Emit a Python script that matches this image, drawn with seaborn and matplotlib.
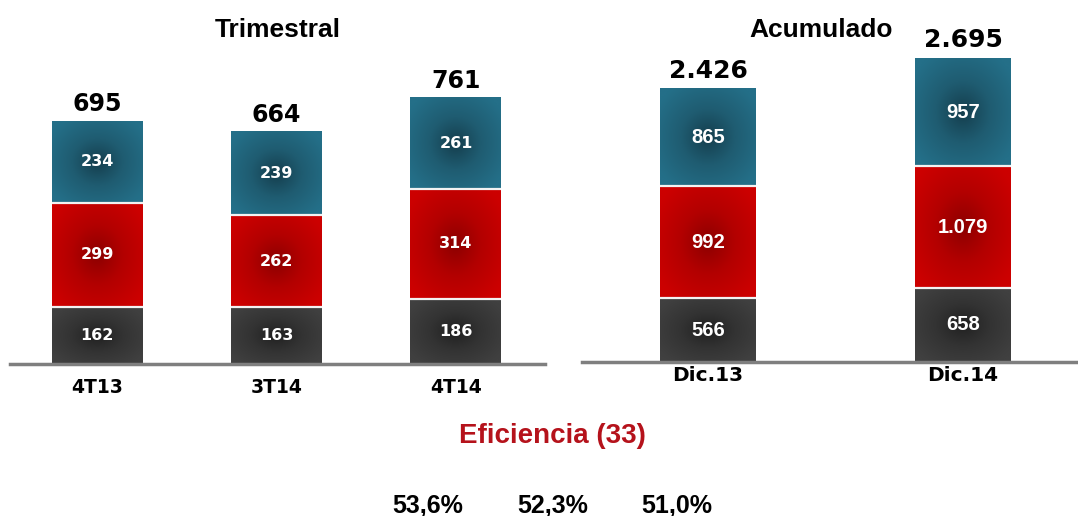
import matplotlib
matplotlib.use("Agg")
import matplotlib.pyplot as plt
import seaborn as sns
import pandas as pd
import numpy as np
from matplotlib import font_manager
from matplotlib.colors import LinearSegmentedColormap

# ---------------- data ----------------
q_periods = ["4T13", "3T14", "4T14"]
q_bottom = [162, 163, 186]
q_middle = [299, 262, 314]
q_top = [234, 239, 261]
q_total = [695, 664, 761]

a_periods = ["Dic.13", "Dic.14"]
a_bottom = [566, 658]
a_middle = [992, 1079]
a_top = [865, 957]
a_total = [2426, 2695]

eff_title = "Eficiencia (33)"
eff_values = ["53,6%", "52,3%", "51,0%"]

title_q = "Trimestral"
title_a = "Acumulado"

# ---------------- style ----------------
sns.set_theme(style="white")
plt.rcParams["font.family"] = ["Liberation Sans", "DejaVu Sans"]

C_TOP = "#215f74"
C_MID = "#bb0000"
C_BOT = "#383838"
GRAD = {
    "t": LinearSegmentedColormap.from_list("t", ["#143c4b", "#1f5c71", "#246f88"]),
    "m": LinearSegmentedColormap.from_list("m", ["#8a0000", "#b30000", "#cc0000"]),
    "b": LinearSegmentedColormap.from_list("b", ["#1f1f1f", "#333333", "#404040"]),
}
AXIS_C = "#7f7f7f"

names = {f.name for f in font_manager.fontManager.ttflist}
if "Liberation Sans Narrow" in names:
    title_font = dict(family=["Liberation Sans Narrow", "Liberation Sans"], size=24)
else:
    title_font = dict(family=["Liberation Sans", "DejaVu Sans"], size=19)

W, H = 1078, 516
fig = plt.figure(figsize=(W / 100, H / 100), dpi=100)

# radial gradient field (0 at centre, 1 at corners)
_yy, _xx = np.mgrid[-1:1:120j, -1:1:60j]
RAD = np.clip(np.sqrt(_xx ** 2 + _yy ** 2) / 1.25, 0, 1) ** 0.9


def fmt(v):
    return f"{v:,}".replace(",", ".")


def px_axes(left, right, base_y, height_px):
    return fig.add_axes([left / W, (H - base_y) / H, (right - left) / W, height_px / H])


def stacked(ax, cats, bottom, middle, top, total, width, ylim, xlim,
            seg_font, tot_font, tick_font, tick_pad, tot_off):
    df = pd.DataFrame({"cat": cats, "b": bottom, "m": middle, "t": top})
    df["bm"] = df["b"] + df["m"]
    df["bmt"] = df["bm"] + df["t"]
    kw = dict(x="cat", order=cats, width=width, ax=ax, edgecolor="white",
              linewidth=1.5, saturation=1)
    sns.barplot(data=df, y="bmt", color=C_TOP, **kw)
    sns.barplot(data=df, y="bm", color=C_MID, **kw)
    sns.barplot(data=df, y="b", color=C_BOT, **kw)
    for i, row in df.iterrows():
        segs = (("b", 0, row["b"]), ("m", row["b"], row["m"]), ("t", row["bm"], row["t"]))
        for key, lo, v in segs:
            ax.imshow(RAD, cmap=GRAD[key], vmin=0, vmax=1, aspect="auto",
                      extent=(i - width / 2, i + width / 2, lo, lo + v),
                      origin="lower", interpolation="bilinear", zorder=3)
            ax.text(i, lo + v / 2, fmt(v), ha="center", va="center", zorder=5,
                    color="white", fontweight="bold", **seg_font)
        ax.hlines([row["b"], row["bm"]], i - width / 2, i + width / 2,
                  color="#f2f2f2", linewidth=1.6, zorder=4)
        ax.annotate(fmt(total[i]), (i, row["bmt"]), xytext=(0, tot_off),
                    textcoords="offset points", ha="center", va="baseline",
                    fontweight="bold", color="black", **tot_font)
    ax.set_ylim(*ylim)
    ax.set_xlim(*xlim)
    ax.set_xlabel("")
    ax.set_ylabel("")
    ax.set_yticks([])
    for s in ("top", "left", "right"):
        ax.spines[s].set_visible(False)
    ax.spines["bottom"].set_color(AXIS_C)
    ax.spines["bottom"].set_linewidth(2.5)
    ax.spines["bottom"].set_zorder(6)
    ax.tick_params(axis="x", length=0, pad=tick_pad)
    for lab in ax.get_xticklabels():
        lab.set_fontweight("bold")
        lab.set_color("black")
        lab.set_fontfamily(tick_font["family"])
        lab.set_fontsize(tick_font["size"])
    ax.patch.set_alpha(0)


# left panel: quarterly
ax1 = px_axes(10, 545, 364, 280)
stacked(ax1, q_periods, q_bottom, q_middle, q_top, q_total,
        width=0.507, ylim=(0, 800), xlim=(-0.485, 2.496),
        seg_font=dict(family=["DejaVu Sans"], size=11.5),
        tot_font=dict(family=["DejaVu Sans"], size=17),
        tick_font=dict(family=["DejaVu Sans"], size=13.5),
        tick_pad=10, tot_off=7)

# right panel: accumulated
ax2 = px_axes(582, 1078, 362, 315.6)
stacked(ax2, a_periods, a_bottom, a_middle, a_top, a_total,
        width=0.373, ylim=(0, 2800), xlim=(-0.494, 1.451),
        seg_font=dict(family=["Liberation Sans"], size=14.5),
        tot_font=dict(family=["DejaVu Sans"], size=18),
        tick_font=dict(family=["DejaVu Sans"], size=14.5),
        tick_pad=3, tot_off=8)

# titles
fig.text(278 / W, (H - 37) / H, title_q, ha="center", va="baseline",
         fontweight="bold", color="black", **title_font)
fig.text(821 / W, (H - 37) / H, title_a, ha="center", va="baseline",
         fontweight="bold", color="black", **title_font)

# efficiency block
fig.text(552 / W, (H - 443) / H, eff_title, ha="center", va="baseline",
         fontweight="bold", color="#b5121b", fontsize=20)
for k, val in enumerate(eff_values):
    fig.text((428 + 124.5 * k) / W, (H - 513) / H, val, ha="center",
             va="baseline", fontweight="bold", color="black", fontsize=18)

fig.savefig("out.png", dpi=100, facecolor="white")
